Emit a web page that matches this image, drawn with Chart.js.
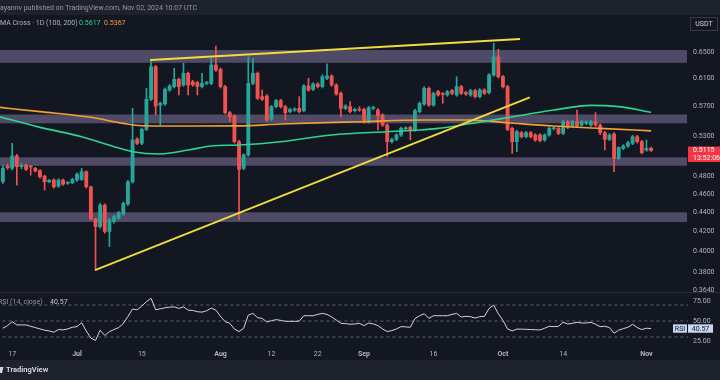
<!DOCTYPE html>
<html><head><meta charset="utf-8">
<script src="https://cdn.jsdelivr.net/npm/chart.js@4.4.1/dist/chart.umd.min.js"></script>
<style>html,body{margin:0;padding:0;background:#131722;}canvas{display:block}</style>
</head><body>
<canvas id="c" width="720" height="380"></canvas>
<script>
// day numbers are counted from 1 Jul 2024 (0 = Jul 1)
const firstDay = -16;
const openP = [
.4740,.4926,.4898,.5048,.4918,.4938,.4918,.4898,.4870,.4806,
.4740,.4760,.4690,.4760,.4722,.4729,
.4760,.4767,.4858,.4683,.4330,.4250,.4479,.4199,.4302,.4337,
.4382,.4490,.4740,.5261,.5206,.5386,.5796,.6276,.5716,.5730,
.5929,.5978,.6085,.6002,.6175,.6051,.6036,.5978,.6026,.6026,
.6302,.6236,.5978,.5610,.5565,.5227,.4898,.5060,.6026,.6175,
.5834,.5843,.5519,.5693,.5778,.5693,.5624,.5646,.5670,.5638,
.5988,.5939,.6017,.5978,.6100,.6135,.6002,.5882,.5670,.5693,
.5638,.5656,.5656,.5488,.5670,.5646,.5578,.5443,.5227,.5257,
.5313,.5395,.5413,.5378,.5624,.5730,.5954,.5716,.5906,.5872,
.5858,.5920,.5858,.5978,.5891,.5858,.5920,.5834,.5929,.5891,
.6150,.6431,.6125,.5978,.5399,.5227,.5343,.5291,.5343,.5313,
.5313,.5249,.5313,.5395,.5399,.5334,.5488,.5430,.5488,.5443,
.5466,.5443,.5488,.5443,.5343,.5257,.5326,.5020,.5143,.5172,
.5206,.5291,.5227,.5122,.5143];
const highP = [
.4938,.4950,.5206,.5068,.4958,.4950,.4934,.4910,.4882,.4818,
.4767,.4775,.4775,.4771,.4744,.4783,
.4846,.4898,.4870,.4690,.4337,.4497,.4490,.4337,.4368,.4410,
.4512,.4756,.5670,.5278,.5404,.5954,.6379,.6296,.5759,.5959,
.6007,.6251,.6105,.6328,.6195,.6070,.6056,.6175,.6056,.6405,
.6601,.6256,.5997,.5628,.5583,.5244,.5077,.6431,.6405,.6195,
.5929,.5863,.5711,.5796,.5796,.5711,.5674,.5679,.5834,.6007,
.6100,.6036,.6036,.6155,.6318,.6155,.6021,.5901,.5721,.5764,
.5674,.5693,.5674,.5698,.5698,.5665,.5596,.5461,.5274,.5330,
.5417,.5421,.5430,.5656,.5759,.5978,.5973,.5901,.5925,.5891,
.5925,.5939,.6125,.5997,.5910,.5939,.5939,.5949,.5949,.6170,
.6644,.6548,.6145,.5997,.5417,.5373,.5360,.5360,.5360,.5330,
.5330,.5330,.5417,.5421,.5417,.5506,.5510,.5506,.5646,.5506,
.5501,.5506,.5610,.5461,.5360,.5330,.5343,.5160,.5189,.5231,
.5308,.5308,.5244,.5249,.5160];
const lowP = [
.4722,.4886,.4878,.4702,.4894,.4870,.4818,.4854,.4783,.4645,
.4729,.4668,.4675,.4698,.4710,.4718,
.4744,.4756,.4668,.4319,.3822,.4233,.4182,.4048,.4284,.4323,
.4368,.4475,.4725,.5189,.5189,.5369,.5778,.5578,.5443,.5711,
.5910,.5959,.5858,.5983,.5858,.5983,.5858,.5959,.6007,.6007,
.6205,.5959,.5592,.5488,.5210,.4319,.4882,.5044,.6007,.5791,
.5778,.5492,.5501,.5674,.5674,.5510,.5606,.5628,.5606,.5619,
.5910,.5920,.5959,.5959,.6080,.5983,.5853,.5555,.5651,.5606,
.5619,.5628,.5470,.5470,.5651,.5378,.5426,.5040,.5210,.5240,
.5296,.5378,.5249,.5360,.5606,.5711,.5698,.5698,.5839,.5740,
.5839,.5863,.5839,.5863,.5853,.5839,.5815,.5815,.5863,.5872,
.6130,.6105,.5959,.5369,.5081,.5101,.5274,.5274,.5274,.5231,
.5223,.5231,.5296,.5378,.5317,.5317,.5395,.5413,.5413,.5426,
.5448,.5426,.5426,.5317,.5122,.5240,.4858,.5003,.5126,.5155,
.5189,.5210,.5073,.5105,.5105];
const closeP = [
.4898,.4906,.5048,.4918,.4934,.4886,.4914,.4866,.4799,.4740,
.4760,.4683,.4760,.4713,.4733,.4767,
.4830,.4858,.4683,.4330,.4250,.4479,.4199,.4319,.4354,.4396,
.4497,.4740,.5249,.5206,.5386,.5796,.6276,.5702,.5740,.5939,
.5988,.6085,.5978,.6175,.6002,.6002,.5978,.6026,.6041,.6302,
.6225,.5978,.5610,.5555,.5227,.4886,.5060,.6026,.6175,.5810,
.5796,.5510,.5693,.5778,.5693,.5610,.5656,.5660,.5624,.5988,
.5929,.6017,.5978,.6125,.6135,.6002,.5872,.5670,.5702,.5624,
.5656,.5646,.5488,.5679,.5679,.5565,.5443,.5227,.5257,.5313,
.5399,.5404,.5369,.5638,.5740,.5954,.5716,.5882,.5858,.5867,
.5906,.5882,.5978,.5882,.5872,.5920,.5834,.5929,.5882,.6150,
.6431,.6125,.5978,.5386,.5227,.5356,.5291,.5343,.5291,.5249,
.5240,.5313,.5399,.5404,.5334,.5488,.5413,.5488,.5430,.5488,
.5483,.5488,.5443,.5343,.5257,.5313,.5020,.5155,.5172,.5214,
.5291,.5227,.5089,.5143,.5115];
const rsiVals = [
40.9,44.2,49.2,45.1,45.1,45.1,43.4,41.8,40.1,38.5,
37.6,36.0,39.3,38.9,40.1,42.2,
42.9,47.9,37.6,28.6,25.7,38.5,31.9,36.8,39.3,41.8,
46.7,55.8,64.9,64.0,68.6,74.2,78.4,64.0,65.3,66.5,
67.3,67.7,65.7,67.7,63.6,63.2,61.6,61.1,62.8,66.1,
63.6,55.8,49.2,47.1,40.1,36.8,40.9,57.4,59.5,54.1,
53.3,48.8,50.4,51.7,50.8,49.6,49.6,49.6,49.8,56.6,
56.6,56.6,58.3,59.5,58.3,55.0,51.2,47.1,46.7,45.9,
46.3,47.1,44.2,47.5,46.3,44.2,40.1,36.8,38.0,40.1,
43.0,42.6,42.2,52.9,56.6,59.1,53.3,56.6,56.6,56.6,
56.6,58.3,59.5,55.0,55.8,55.4,53.7,55.4,55.8,65.7,
69.8,59.1,50.8,40.1,37.6,39.9,39.8,39.6,39.3,39.1,
38.8,40.9,43.4,43.0,43.4,48.4,46.3,47.1,48.4,47.5,
47.5,48.4,45.9,42.9,43.4,41.8,34.7,38.5,40.5,42.1,
45.9,41.8,39.3,40.9,40.57];
const ma100Days = [-17,-8,1,8,12,18,24,29,35,44,55,67,74,78,83,93,103,111,117,124];
const ma100Vals = [.5560,.5413,.5291,.5164,.5101,.5073,.5122,.5172,.5185,.5227,.5313,.5356,.5378,.5399,.5443,.5543,.5646,.5711,.5693,.5617];
const ma200Days = [-17,-8,3,10,14,26,35,44,61,75,85,93,103,113,124];
const ma200Vals = [.5685,.5624,.5547,.5466,.5435,.5430,.5432,.5457,.5488,.5510,.5510,.5474,.5430,.5399,.5367];
const zoneLow  = [0.6336, 0.5467, 0.4929, 0.4297];
const zoneHigh = [0.6536, 0.5585, 0.5031, 0.4400];
const trendUpDays = [15.8, 95.7],  trendUpVals = [0.6379, 0.6714];
const trendLowDays = [3.9, 97.8],  trendLowVals = [0.3822, 0.5824];
const priceTicks = [0.65,0.61,0.57,0.53,0.48,0.46,0.44,0.42,0.40,0.38,0.364];
const rsiTicks = [25,50,75];
const rsiLevels = [70,50,30];
const dateTickDays = [-14,0,14,31,42,52,62,77,92,105,123];
const dateTickLabels = ['17','Jul','15','Aug','12','22','Sep','16','Oct','14','Nov'];
const monthNames = ['Jul','Aug','Sep','Oct','Nov'];
const lastPrice = 0.5115, ma100Last = 0.5617, ma200Last = 0.5367, rsiLast = 40.57;

const UP = '#26a69a', DN = '#ef5350', FONT = 'Roboto, "Open Sans", sans-serif';
const days = openP.map((_, i) => firstDay + i);
const candleColor = ctx => closeP[ctx.dataIndex] >= openP[ctx.dataIndex] ? UP : DN;
const pts = (xs, ys) => xs.map((x, i) => ({x, y: ys[i]}));

const deco = {
  id: 'deco',
  beforeDraw(chart) {
    const c = chart.ctx; c.save(); c.fillStyle = '#131722'; c.fillRect(0, 0, 720, 380); c.restore();
  },
  beforeDatasetsDraw(chart) {
    const {ctx, chartArea: a, scales: {y, yR}} = chart;
    ctx.save();
    ctx.fillStyle = '#4f4b67';
    zoneLow.forEach((lo, i) => {
      const t = y.getPixelForValue(zoneHigh[i]), b = y.getPixelForValue(lo);
      ctx.fillRect(a.left, t, a.right - a.left - 1, b - t);
    });
    ctx.strokeStyle = '#2a2e39'; ctx.lineWidth = 1;
    ctx.beginPath(); ctx.moveTo(0, Math.round(yR.top) + 0.5); ctx.lineTo(720, Math.round(yR.top) + 0.5); ctx.stroke();
    ctx.restore();
  },
  afterDraw(chart) {
    const {ctx, scales: {y, yR}} = chart;
    ctx.save();
    ctx.fillStyle = '#1e222d';
    ctx.fillRect(0, 0, 720, 15);
    ctx.fillRect(0, 360, 720, 20);
    ctx.textBaseline = 'middle'; ctx.textAlign = 'left';
    ctx.font = '7px ' + FONT; ctx.fillStyle = '#9598a1';
    ctx.fillText('ayannv published on TradingView.com, Nov 02, 2024 10:07 UTC', 0, 8);
    ctx.fillStyle = '#b2b5be';
    ctx.fillText('MA Cross \u00b7 1D (100, 200)', 0, 23.5);
    ctx.fillStyle = '#2ed48f'; ctx.fillText(ma100Last.toFixed(4), 79, 23.5);
    ctx.fillStyle = '#f5a030'; ctx.fillText(ma200Last.toFixed(4), 104, 23.5);
    ctx.fillStyle = '#9598a1';
    ctx.fillText('RSI (14, close)', -2, 302.5);
    ctx.fillStyle = '#c9cbd3'; ctx.fillText(rsiLast.toFixed(2), 50, 302.5);
    ctx.fillStyle = '#131722'; ctx.fillRect(690, 17, 28, 14);
    ctx.strokeStyle = '#363a45'; ctx.strokeRect(690.5, 17.5, 27, 13);
    ctx.fillStyle = '#d1d4dc'; ctx.textAlign = 'center'; ctx.fillText('USDT', 704, 24.5);
    const py = y.getPixelForValue(lastPrice);
    ctx.fillStyle = '#f23645'; ctx.fillRect(688, py - 4, 32, 15.5);
    ctx.fillStyle = '#ffffff'; ctx.textAlign = 'left';
    ctx.fillText(lastPrice.toFixed(4), 693, py);
    ctx.fillText('13:52:06', 693, py + 7.5);
    const ry = yR.getPixelForValue(rsiLast);
    ctx.fillStyle = '#c8d6ee';
    ctx.fillRect(673, ry - 4.2, 14, 8.4);
    ctx.fillRect(688, ry - 4.2, 25, 8.4);
    ctx.fillStyle = '#131722';
    ctx.textAlign = 'center';
    ctx.fillText('RSI', 680, ry + 0.3);
    ctx.fillText(rsiLast.toFixed(2), 700.5, ry + 0.3);
    ctx.fillStyle = '#d1d4dc';
    ctx.beginPath(); ctx.moveTo(0, 367); ctx.lineTo(3.5, 367); ctx.lineTo(2, 373); ctx.lineTo(0, 373); ctx.closePath(); ctx.fill();
    ctx.textAlign = 'left'; ctx.font = 'bold 7.5px ' + FONT;
    ctx.fillText('TradingView', 6, 370.5);
    ctx.restore();
  }
};

new Chart(document.getElementById('c'), {
  type: 'bar',
  data: {
    datasets: [
      {type: 'line', data: pts(trendUpDays, trendUpVals), borderColor: '#f0dc3a', borderWidth: 1.8, pointRadius: 0, yAxisID: 'y', order: 0},
      {type: 'line', data: pts(trendLowDays, trendLowVals), borderColor: '#f0dc3a', borderWidth: 1.8, pointRadius: 0, yAxisID: 'y', order: 0},
      {type: 'line', data: pts(ma100Days, ma100Vals), borderColor: '#2ed48f', borderWidth: 1.6, pointRadius: 0, cubicInterpolationMode: 'monotone', yAxisID: 'y', order: 1},
      {type: 'line', data: pts(ma200Days, ma200Vals), borderColor: '#f5a030', borderWidth: 1.6, pointRadius: 0, cubicInterpolationMode: 'monotone', yAxisID: 'y', order: 1},
      {type: 'bar', data: days.map((d, i) => ({x: d, y: [openP[i], closeP[i]]})), backgroundColor: candleColor, barThickness: 3.2, minBarLength: 1, grouped: false, borderWidth: 0, yAxisID: 'y', order: 2},
      {type: 'bar', data: days.map((d, i) => ({x: d, y: [lowP[i], highP[i]]})), backgroundColor: candleColor, barThickness: 1, grouped: false, borderWidth: 0, yAxisID: 'y', order: 3},
      {type: 'line', data: days.map((d, i) => ({x: d, y: rsiVals[i]})), borderColor: '#d1d4dc', borderWidth: 1, pointRadius: 0, yAxisID: 'yR', order: 1},
      ...rsiLevels.map(v => ({type: 'line', data: [{x: -20, y: v}, {x: 140, y: v}], borderColor: '#5d606b', borderWidth: 1, borderDash: [3, 3], pointRadius: 0, yAxisID: 'yR', order: 4}))
    ]
  },
  options: {
    responsive: false, animation: false, devicePixelRatio: 1,
    layout: {padding: {top: 15, bottom: 20, left: 0, right: 0}},
    plugins: {legend: {display: false}, tooltip: {enabled: false}},
    scales: {
      x: {
        type: 'linear', min: -16.63, max: 131.97, offset: false,
        grid: {display: false, drawTicks: false}, border: {display: false},
        afterBuildTicks: s => { s.ticks = dateTickDays.map(v => ({value: v})); },
        afterFit: s => { s.height = 13; },
        ticks: {autoSkip: false, maxRotation: 0, padding: 3, color: '#b2b5be',
          font: ctx => ({family: FONT, size: 7, weight: monthNames.includes(dateTickLabels[ctx.index]) ? 'bold' : 'normal'}),
          callback: (v, i) => dateTickLabels[i]}
      },
      y: {
        type: 'logarithmic', position: 'right', stack: 'panes', stackWeight: 277,
        min: 0.3623, max: 0.7119,
        grid: {display: false, drawTicks: false}, border: {display: false},
        afterBuildTicks: s => { s.ticks = priceTicks.map(v => ({value: v})); },
        afterFit: s => { s.width = 32; },
        ticks: {padding: 5, color: '#b2b5be', font: {family: FONT, size: 7}, callback: v => Number(v).toFixed(4)}
      },
      yR: {
        type: 'linear', position: 'right', stack: 'panes', stackWeight: 55,
        min: 17.5, max: 86.25,
        grid: {display: false, drawTicks: false}, border: {display: false},
        afterBuildTicks: s => { s.ticks = rsiTicks.map(v => ({value: v})); },
        afterFit: s => { s.width = 32; },
        ticks: {padding: 5, color: '#b2b5be', font: {family: FONT, size: 7}, callback: v => Number(v).toFixed(2)}
      }
    }
  },
  plugins: [deco]
});
</script>
</body></html>
